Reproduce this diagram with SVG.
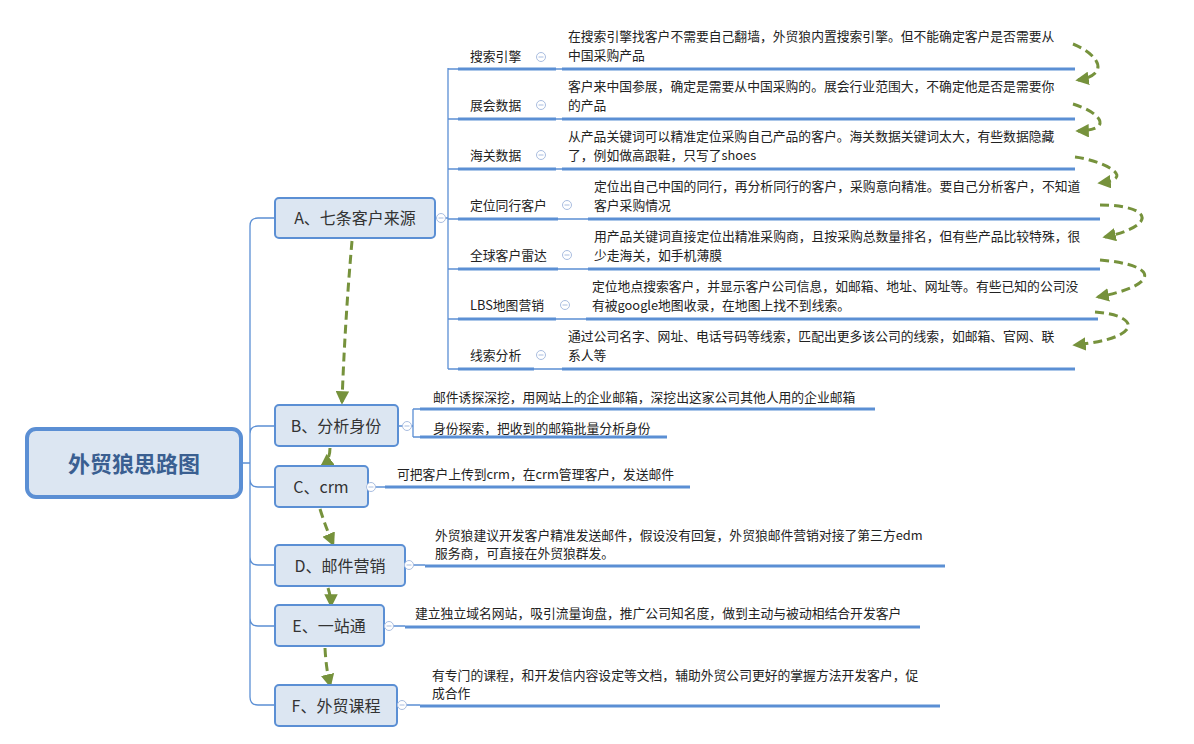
<svg xmlns="http://www.w3.org/2000/svg" width="1194" height="744" viewBox="0 0 1194 744">
<style>
text{font-family:"Microsoft YaHei","Noto Sans CJK SC","Liberation Sans",sans-serif;fill:#222}
.node{fill:#dce6f2;stroke:#5b8fd4;stroke-width:2}
.nt{font-size:16px;fill:#333;text-anchor:middle}
.t{font-size:12.8px}
.l{fill:none;stroke:#5b8fd4;stroke-width:1.3}
.u{stroke:#5b8fd4;stroke-width:3}
.d{fill:none;stroke:#76923c;stroke-width:3;stroke-dasharray:9 5}
.c{fill:#fff;stroke:#a9bde0;stroke-width:1}
</style>
<defs>
<marker id="ah" viewBox="0 0 10 10" refX="8" refY="5" markerWidth="4.5" markerHeight="4.5" orient="auto"><path d="M0,0L10,5L0,10z" fill="#76923c"/></marker>
<g id="mn"><circle class="c" r="4.5"/><path d="M-2.5,0H2.5" stroke="#a9bde0" stroke-width="1"/></g>
</defs>
<rect width="1194" height="744" fill="#fff"/>
<g id="connectors">
<path class="l" d="M241,463H250M250,226V697M250,226Q250,218 258,218H275M250,434Q250,426 258,426H275M250,479Q250,487 258,487H275M250,557Q250,565 258,565H275M250,618Q250,626 258,626H275M250,697Q250,705 258,705H275"/>
<path class="l" d="M435,218H448M448,68V369"/>
<g class="u"><path d="M458,69H556M458,119H556M458,169H556M458,219H558M458,269H558M458,319H556M458,369H534"/></g>
<path class="l" d="M448,69H458M448,119H458M448,169H458M448,219H458M448,269H458M448,319H458M448,369H458"/>
<path class="l" d="M556,69H562M556,119H562M556,169H562M558,219H588M558,269H588M556,319H586M534,369H562"/>
<g class="u"><path d="M562,69H1075M562,119H1075M562,169H1075M588,219H1100M588,269H1100M586,319H1098M562,369H1075"/></g>
<path class="l" d="M398,426H413M413,409V437M413,409H420M413,437H420"/>
<g class="u"><path d="M420,409H875M420,437H667M385,487H690M425,566H945M405,627H920M420,706H940"/></g>
<path class="l" d="M368,487H385M405,565H425M384,626H405M397,705H420"/>
<path class="d" marker-end="url(#ah)" d="M352,241Q345,320 342,402"/>
<path class="d" marker-end="url(#ah)" d="M330,448Q330,460 322,466"/>
<path class="d" marker-end="url(#ah)" d="M320,509Q326,528 333,544"/>
<path class="d" marker-end="url(#ah)" d="M328,588Q331,597 331,605"/>
<path class="d" marker-end="url(#ah)" d="M325,648Q326,668 330,685"/>
<path class="d" marker-end="url(#ah)" d="M1073,44C1100,55 1110,75 1078,80"/>
<path class="d" marker-end="url(#ah)" d="M1073,104C1100,112 1115,130 1078,131"/>
<path class="d" marker-end="url(#ah)" d="M1075,157C1100,160 1140,178 1100,183"/>
<path class="d" marker-end="url(#ah)" d="M1100,205C1150,205 1160,225 1105,237"/>
<path class="d" marker-end="url(#ah)" d="M1100,260C1160,265 1160,285 1098,297"/>
<path class="d" marker-end="url(#ah)" d="M1095,312C1140,315 1145,338 1075,345"/>
</g>
<g id="root"><rect x="27" y="429" width="214" height="68" rx="9" fill="#dce6f2" stroke="#5b8fd4" stroke-width="4"/><text x="134" y="472" text-anchor="middle" font-size="22" font-weight="bold" style="fill:#3a5f91">外贸狼思路图</text></g>
<g id="nA"><rect class="node" x="275" y="198" width="160" height="40" rx="4"/><text class="nt" x="355" y="224">A、七条客户来源</text><use href="#mn" x="441" y="218"/></g>
<g id="nB"><rect class="node" x="275" y="405" width="123" height="41" rx="4"/><text class="nt" x="336" y="432">B、分析身份</text><use href="#mn" x="407" y="426"/></g>
<g id="nC"><rect class="node" x="275" y="466" width="93" height="41" rx="4"/><text class="nt" x="321" y="493">C、crm</text><use href="#mn" x="371" y="487"/></g>
<g id="nD"><rect class="node" x="275" y="545" width="130" height="41" rx="4"/><text class="nt" x="340" y="572">D、邮件营销</text><use href="#mn" x="409" y="565"/></g>
<g id="nE"><rect class="node" x="275" y="605" width="109" height="41" rx="4"/><text class="nt" x="329" y="632">E、一站通</text><use href="#mn" x="389" y="626"/></g>
<g id="nF"><rect class="node" x="275" y="685" width="122" height="41" rx="4"/><text class="nt" x="336" y="712">F、外贸课程</text><use href="#mn" x="402" y="705"/></g>
<g id="a1"><text class="t" x="470" y="61">搜索引擎</text><use href="#mn" x="541" y="57"/><text class="t" x="568" y="41">在搜索引擎找客户不需要自己翻墙，外贸狼内置搜索引擎。但不能确定客户是否需要从</text><text class="t" x="568" y="60">中国采购产品</text></g>
<g id="a2"><text class="t" x="470" y="110">展会数据</text><use href="#mn" x="541" y="105"/><text class="t" x="568" y="91">客户来中国参展，确定是需要从中国采购的。展会行业范围大，不确定他是否是需要你</text><text class="t" x="568" y="110">的产品</text></g>
<g id="a3"><text class="t" x="470" y="160">海关数据</text><use href="#mn" x="541" y="155"/><text class="t" x="568" y="141">从产品关键词可以精准定位采购自己产品的客户。海关数据关键词太大，有些数据隐藏</text><text class="t" x="568" y="160">了，例如做高跟鞋，只写了shoes</text></g>
<g id="a4"><text class="t" x="470" y="210">定位同行客户</text><use href="#mn" x="567" y="205"/><text class="t" x="594" y="191">定位出自己中国的同行，再分析同行的客户，采购意向精准。要自己分析客户，不知道</text><text class="t" x="594" y="210">客户采购情况</text></g>
<g id="a5"><text class="t" x="470" y="260">全球客户雷达</text><use href="#mn" x="567" y="255"/><text class="t" x="594" y="241">用产品关键词直接定位出精准采购商，且按采购总数量排名，但有些产品比较特殊，很</text><text class="t" x="594" y="260">少走海关，如手机薄膜</text></g>
<g id="a6"><text class="t" x="470" y="310">LBS地图营销</text><use href="#mn" x="565" y="305"/><text class="t" x="592" y="291">定位地点搜索客户，并显示客户公司信息，如邮箱、地址、网址等。有些已知的公司没</text><text class="t" x="592" y="310">有被google地图收录，在地图上找不到线索。</text></g>
<g id="a7"><text class="t" x="470" y="360">线索分析</text><use href="#mn" x="541" y="355"/><text class="t" x="568" y="341">通过公司名字、网址、电话号码等线索，匹配出更多该公司的线索，如邮箱、官网、联</text><text class="t" x="568" y="360">系人等</text></g>
<g id="b1"><text class="t" x="433" y="402">邮件诱探深挖，用网站上的企业邮箱，深挖出这家公司其他人用的企业邮箱</text></g>
<g id="b2"><text class="t" x="433" y="433">身份探索，把收到的邮箱批量分析身份</text></g>
<g id="c1"><text class="t" x="397" y="479">可把客户上传到crm，在crm管理客户，发送邮件</text></g>
<g id="d1"><text class="t" x="435" y="540">外贸狼建议开发客户精准发送邮件，假设没有回复，外贸狼邮件营销对接了第三方edm</text><text class="t" x="435" y="558">服务商，可直接在外贸狼群发。</text></g>
<g id="e1"><text class="t" x="415" y="618">建立独立域名网站，吸引流量询盘，推广公司知名度，做到主动与被动相结合开发客户</text></g>
<g id="f1"><text class="t" x="432" y="680">有专门的课程，和开发信内容设定等文档，辅助外贸公司更好的掌握方法开发客户，促</text><text class="t" x="432" y="698">成合作</text></g>
</svg>
